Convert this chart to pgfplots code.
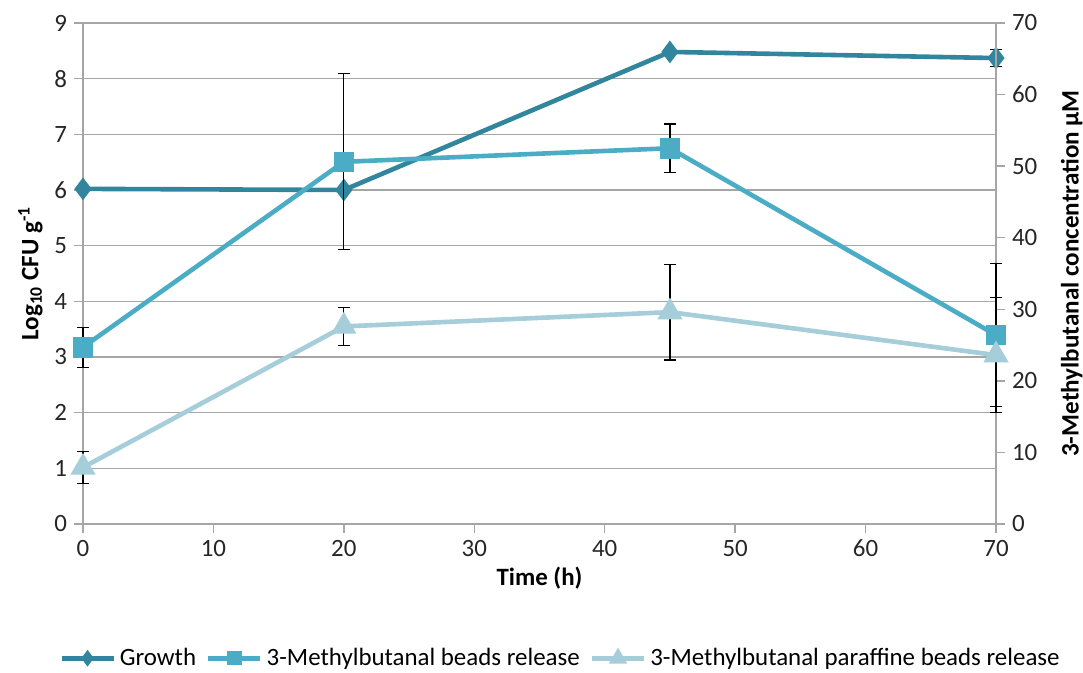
\documentclass[border=0pt]{standalone}
\usepackage{fontspec}
\setmainfont{Carlito}
\usepackage{pgfplots}
\pgfplotsset{compat=1.18}
\definecolor{cGrowth}{HTML}{31859C}
\definecolor{cBeads}{HTML}{4BACC6}
\definecolor{cPar}{HTML}{A5CDDA}
\definecolor{cGrid}{HTML}{A6A6A6}
\begin{document}
\begin{tikzpicture}
\pgfplotsset{
  common/.style={
    scale only axis, width=456.5bp, height=250.5bp,
    xmin=0, xmax=70,
    /pgf/number format/assume math mode=true,
    tick label style={font=\fontsize{12.5}{14}\selectfont, color=black!85},
    tick style={cGrid, line width=0.75bp},
    tick align=outside,
    major tick length=4.5bp,
    axis line style={cGrid, line width=0.75bp},
    error bars/error bar style={black, line width=0.6bp},
    error bars/error mark options={rotate=90, mark size=3bp, black, line width=0.6bp},
  },
}
\begin{axis}[common,
  ymin=0, ymax=9, ytick={0,...,9},
  xtick={0,10,...,70},
  axis x line*=bottom, axis y line*=left,
  ymajorgrids, grid style={cGrid, line width=0.75bp},
  xlabel={\bfseries Time (h)},
  xlabel style={font=\fontsize{12.5}{14}\selectfont, yshift=2bp},
  ylabel={\bfseries Log\textsubscript{10} CFU g\textsuperscript{-1}},
  ylabel style={font=\fontsize{12.6}{14}\selectfont, yshift=-1bp},
  clip=false,
]
\addplot[cGrowth, line width=2.3bp, mark=diamond*, mark size=3.8bp,
  mark options={solid, fill=cGrowth},
  error bars/.cd, y dir=both, y explicit]
  coordinates {(0,6.02) +- (0,0) (20,6.0) +- (0,0) (45,8.48) +- (0,0) (70,8.37) +- (0,0.155)};
\end{axis}
\begin{axis}[common,
  ymin=0, ymax=70, ytick={0,10,...,70},
  axis x line=none, axis y line*=right,
  ylabel={\bfseries 3-Methylbutanal concentration µM},
  ylabel style={font=\fontsize{12.6}{14}\selectfont, yshift=-5bp},
  clip=false,
  legend style={at={(0.524,-0.268)}, anchor=center, draw=none, fill=none,
    font=\fontsize{12.5}{14}\selectfont, legend columns=3,
    /tikz/every even column/.append style={column sep=3bp}},
  legend cell align=left,
  legend image code/.code={
    \draw[#1, mark repeat=2, mark phase=2, every mark/.append style={scale=0.6}] plot coordinates {(0bp,0bp) (13bp,0bp) (26bp,0bp)};
  },
]
\addlegendimage{cGrowth, line width=2.3bp, mark=diamond*, mark size=3.8bp, mark options={solid, fill=cGrowth}}
\addlegendentry{Growth}
\addplot[cBeads, line width=2.3bp, mark=square*, mark size=4bp,
  mark options={solid, fill=cBeads},
  error bars/.cd, y dir=both, y explicit]
  coordinates {(0,24.7) +- (0,2.8) (20,50.6) +- (0,12.3) (45,52.5) +- (0,3.4) (70,26.4) +- (0,10.0)};
\addlegendentry{3-Methylbutanal beads release}
\addplot[cPar, line width=2.3bp, mark=triangle*, mark size=5bp,
  mark options={solid, fill=cPar},
  error bars/.cd, y dir=both, y explicit]
  coordinates {(0,7.9) +- (0,2.2) (20,27.6) +- (0,2.7) (45,29.6) +- (0,6.7) (70,23.6) +- (0,8.0)};
\addlegendentry{3-Methylbutanal paraffine beads release}
\end{axis}
\pgfresetboundingbox
\path ([xshift=-41.5bp, yshift=-74.5bp]current axis.south west) rectangle ([xshift=43.5bp, yshift=11.5bp]current axis.north east);
\end{tikzpicture}
\end{document}
